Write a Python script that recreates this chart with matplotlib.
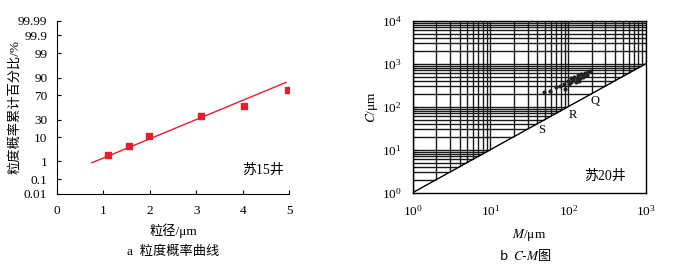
import matplotlib
matplotlib.use("Agg")
import matplotlib.pyplot as plt
import numpy as np
from statistics import NormalDist

plt.rcParams['font.family'] = ['Liberation Serif', 'Noto Sans CJK SC']
plt.rcParams['mathtext.fontset'] = 'stix'
plt.rcParams['axes.unicode_minus'] = False

# a: grain size probability curve
grain_size = [1.10, 1.55, 1.97, 3.11, 4.02, 4.97]
cum_pct = [2.1, 4.9, 10.8, 36.0, 53.0, 77.0]
fit_size = [0.75, 4.93]
fit_pct = [0.85, 85.8]
prob_ticks = [0.01, 0.1, 1, 10, 30, 70, 90, 99, 99.9, 99.99]
prob_labels = ['0.01', '0.1', '1', '10', '30', '70', '90', '99', '99.9', '99.99']

# b: C-M diagram
cm_M = [49, 59, 69, 79, 91, 89, 100, 102, 107, 116, 119, 128, 132, 141,
        146, 153, 159, 166, 172, 181, 190, 126, 137, 109]
cm_C = [223, 228, 282, 302, 257, 331, 401, 342, 471, 418, 499, 441, 545, 471,
        576, 499, 545, 620, 557, 650, 690, 369, 401, 381]
diag = [1, 1000]
seg_names = ['S', 'R', 'Q']
seg_M = [46, 114, 220]
seg_C = [28.7, 64, 138]

nd = NormalDist()


def probit(p):
    p = np.asarray(p, dtype=float)
    p = np.clip(p, 1e-7, 100 - 1e-7)
    f = np.vectorize(lambda v: nd.inv_cdf(v / 100) if np.isfinite(v) else np.nan,
                     otypes=[float])
    return f(p)


def probit_inv(z):
    z = np.asarray(z, dtype=float)
    f = np.vectorize(lambda v: nd.cdf(v) * 100 if np.isfinite(v) else np.nan,
                     otypes=[float])
    return f(z)


fig = plt.figure(figsize=(6.87, 2.71), dpi=100)
red = '#e0202c'

# ---- left panel
ax1 = fig.add_axes([0.083, 0.285, 0.338, 0.638])
ax1.set_yscale('function', functions=(probit, probit_inv))
ax1.plot(fit_size, fit_pct, '-', color=red, lw=1.0)
ax1.plot(grain_size, cum_pct, 's', color=red, ms=4.5)
ax1.set_xlim(0, 5)
ax1.set_ylim(0.01, 99.99)
ax1.set_yticks(prob_ticks)
ax1.set_yticklabels(prob_labels)
ax1.set_xticks(range(6))
ax1.spines['top'].set_visible(False)
ax1.spines['right'].set_visible(False)
ax1.tick_params(direction='in', length=3, labelsize=9.5, pad=7)
ax1.tick_params(axis='x', pad=8)
ax1.set_xlabel('粒径/μm', fontsize=9.5, labelpad=5)
ax1.set_ylabel('粒度概率累计百分比/%', fontsize=9.5)
ax1.yaxis.set_label_coords(-0.152, 0.5)
ax1.text(0.885, 0.137, '苏15井', transform=ax1.transAxes, fontsize=10,
         ha='center', va='center')
fig.text(0.252, 0.07, 'a  粒度概率曲线', fontsize=9.5, ha='center', va='center')

# ---- right panel
ax2 = fig.add_axes([0.6007, 0.289, 0.3396, 0.635])
ax2.set_xscale('log')
ax2.set_yscale('log')
ax2.set_xlim(1, 1000)
ax2.set_ylim(1, 1e4)
ax2.set_axisbelow(True)
ax2.grid(True, which='both', color='#1a1a1a', lw=1.0)
ax2.fill_between(diag, [0.5, 0.5], diag, color='white', zorder=1, lw=0)
ax2.plot(diag, diag, color='k', lw=1.0, zorder=2)
ax2.scatter(cm_M, cm_C, s=9, color='#222222', zorder=3, lw=0)
for name, m, c in zip(seg_names, seg_M, seg_C):
    ax2.text(m, c, name, fontsize=9, ha='center', va='center', zorder=4)
ax2.tick_params(which='both', direction='in', labelsize=9.5, top=False, right=False)
ax2.tick_params(which='major', length=3, pad=8)
ax2.tick_params(which='minor', length=2)
for s in ax2.spines.values():
    s.set_linewidth(1.0)
    s.set_zorder(5)
ax2.set_xlabel('$\\mathit{M}$/μm', fontsize=9.5, labelpad=6)
ax2.set_ylabel('$\\mathit{C}$/μm', fontsize=9.5)
ax2.yaxis.set_label_coords(-0.14, 0.5)
ax2.text(0.824, 0.093, '苏20井', transform=ax2.transAxes, fontsize=10,
         ha='center', va='center', zorder=6)
fig.text(0.765, 0.06, 'b  $\\mathit{C}$-$\\mathit{M}$图', fontsize=9.5,
         ha='center', va='center', family='Noto Sans CJK SC')

fig.savefig('out.png', dpi=100)
